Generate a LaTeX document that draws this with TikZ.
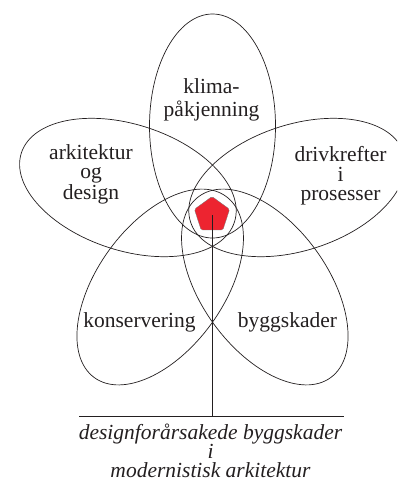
\documentclass[tikz,border=0pt]{standalone}
\usepackage{fontspec}
\setmainfont{Liberation Serif}
\usepackage{xcolor}
\usepackage{tikz}
\usetikzlibrary{shapes.geometric}
\definecolor{strek}{RGB}{35,31,32}
\definecolor{kjernerod}{RGB}{237,36,48}
\begin{document}
\begin{tikzpicture}[x=1pt,y=-1pt, every node/.style={font=\fontsize{21.5}{19.5}\selectfont, text=strek}]
\tikzstyle{petal}=[draw=strek, ellipse, line width=0.7pt, inner sep=0pt, minimum width=224pt, minimum height=126pt]
\tikzstyle{ord}=[align=center, inner sep=0pt]
\useasboundingbox (0,0) rectangle (397,482);
\clip (0,0) rectangle (397,482);
% the five petals
\node[petal, rotate=90] (p1) at (212.5,126) {};
\node[petal, rotate=-18] (p2) at (127.9,187.5) {};
\node[petal, rotate=18] (p3) at (297.1,187.5) {};
\node[petal, rotate=54] (p4) at (160.2,287) {};
\node[petal, rotate=-54] (p5) at (264.8,287) {};
% texts
\node[ord, font=\fontsize{21.5}{23}\selectfont] (t1) at (211.5,100) {klima-\\påkjenning};
\node[ord] (t2) at (91,174) {arkitektur\\og\\design};
\node[ord] (t3) at (340.5,176) {drivkrefter\\i\\prosesser};
\node[ord, anchor=base] (t4) at (139.5,327) {konservering};
\node[ord, anchor=base] (t5) at (287.5,327) {byggskader};
% centre and stem
\node[regular polygon, regular polygon sides=5, minimum size=37pt, inner sep=0pt, fill=kjernerod, draw=strek!60, line width=0.3pt, rounded corners=1.5pt] (kjerne) at (212,215) {};
\coordinate (b1) at (79,416);
\coordinate (b2) at (344,416);
\draw[strek, line width=0.7pt] (b1) -- (b2);
\draw[strek, line width=0.7pt] (kjerne.center) -- (kjerne.center |- b1);
\node[ord, font=\fontsize{21.5}{19}\selectfont\itshape] (tittel) at (210.5,450.5) {designforårsakede byggskader\\i\\modernistisk arkitektur};
\end{tikzpicture}
\end{document}
